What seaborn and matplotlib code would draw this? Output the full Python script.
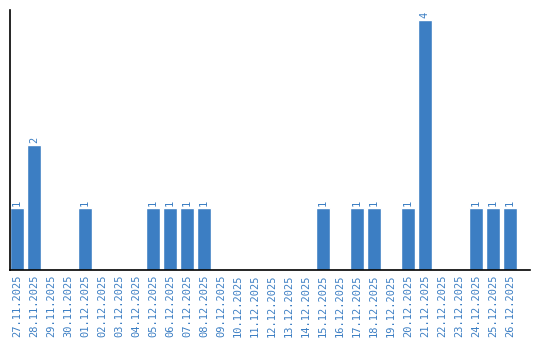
import matplotlib
matplotlib.use("Agg")
import matplotlib.pyplot as plt
import seaborn as sns
import pandas as pd

dates = ["27.11.2025", "28.11.2025", "29.11.2025", "30.11.2025", "01.12.2025",
         "02.12.2025", "03.12.2025", "04.12.2025", "05.12.2025", "06.12.2025",
         "07.12.2025", "08.12.2025", "09.12.2025", "10.12.2025", "11.12.2025",
         "12.12.2025", "13.12.2025", "14.12.2025", "15.12.2025", "16.12.2025",
         "17.12.2025", "18.12.2025", "19.12.2025", "20.12.2025", "21.12.2025",
         "22.12.2025", "23.12.2025", "24.12.2025", "25.12.2025", "26.12.2025"]
counts = [1, 2, 0, 0, 1, 0, 0, 0, 1, 1, 1, 1, 0, 0, 0, 0, 0, 0, 1, 0,
          1, 1, 0, 1, 4, 0, 0, 1, 1, 1]

color = "#3c7ec3"
df = pd.DataFrame({"date": dates, "count": counts})

sns.set_style("white")
plt.rcParams['font.family'] = ['DejaVu Sans Mono', 'DejaVu Sans']

fig = plt.figure(figsize=(5.4, 3.4), dpi=100)
ax = fig.add_axes([10/540, 70/340, 520/540, 260/340])
sns.barplot(data=df, x="date", y="count", color=color, saturation=1,
            width=0.82, ax=ax)

for i, v in enumerate(counts):
    if v > 0:
        ax.text(i, v + 0.03, str(v), rotation=90, ha="center", va="bottom",
                color=color, fontsize=7.5)

ax.set_xlim(-0.41, 30.19)
ax.set_ylim(0, 4.16)
ax.set_xlabel("")
ax.set_ylabel("")
ax.set_yticks([])
ax.tick_params(axis="x", length=0, pad=3, labelcolor=color, labelsize=7.5,
               labelrotation=90)
for s in ["top", "right"]:
    ax.spines[s].set_visible(False)
for s in ["left", "bottom"]:
    ax.spines[s].set_color("black")
    ax.spines[s].set_linewidth(1.2)

fig.savefig("out.png", dpi=100)
